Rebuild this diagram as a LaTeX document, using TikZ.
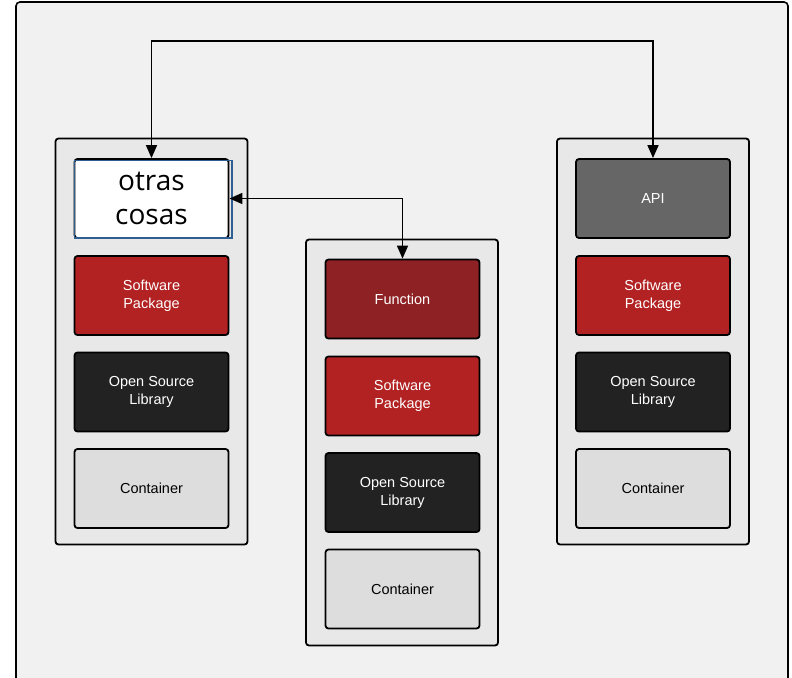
\documentclass[tikz,border=0pt]{standalone}
\usepackage{fontspec}
\setmainfont{Liberation Sans}
\newfontfamily\bigfont{Open Sans}
\usetikzlibrary{arrows.meta}

\definecolor{framebg}{HTML}{F1F1F1}
\definecolor{colbg}{HTML}{E8E8E8}
\definecolor{pkgred}{HTML}{B22222}
\definecolor{fnred}{HTML}{8E2123}
\definecolor{libdark}{HTML}{222222}
\definecolor{apigray}{HTML}{666666}
\definecolor{boxgray}{HTML}{DDDDDD}
\definecolor{otrasblue}{HTML}{2F5E93}

\tikzset{
  column/.style={draw, line width=1.8pt, rounded corners=3pt, fill=colbg,
    minimum width=192pt, minimum height=406pt},
  layer/.style={draw, line width=1.8pt, rounded corners=3pt, text=white, align=center,
    minimum width=154pt, minimum height=79pt, font=\fontsize{14.5}{18}\selectfont},
  pkg/.style={layer, fill=pkgred},
  fn/.style={layer, fill=fnred},
  lib/.style={layer, fill=libdark},
  api/.style={layer, fill=apigray},
  box/.style={layer, fill=boxgray, text=black},
  other/.style={layer, fill=white, text=black, font=\bigfont\fontsize{28}{34}\selectfont},
  link/.style={line width=1.6pt, {Triangle[length=13pt,width=11pt]}-{Triangle[length=13pt,width=11pt]}}
}

\begin{document}
\begin{tikzpicture}[x=1pt,y=-1pt]
    \useasboundingbox (0,0) rectangle (792,677);
    \clip (0,0) rectangle (792,677);
    \fill[white] (0,0) rectangle (792,677);

    % Marco exterior
    \draw[line width=1.6pt, fill=framebg, rounded corners=4pt] (16,2) rectangle (788,684);

    % Columnas
    \node[column] (lcol) at (151.5,341.5) {};
    \node[column] (mcol) at (402,442.5) {};
    \node[column] (rcol) at (653,341.5) {};

    % Capas de cada columna
    \node[other] (otras) at (151.5,198.5) {otras\\cosas};
    \draw[otrasblue, line width=1.2pt] ([shift={(0.5pt,1pt)}]otras.south west)
        rectangle ([shift={(2.5pt,-2pt)}]otras.north east);
    \node[fn] (func) at (402.5,299) {Function};
    \node[api] (api) at (653,198.5) {API};

    \foreach \c/\x/\y in {l/151.5/198.5, m/402.5/299, r/653/198.5} {
        \node[pkg] (\c pkg) at (\x,\y+97) {Software\\Package};
        \node[lib] (\c lib) at (\x,\y+193.5) {Open Source\\Library};
        \node[box] (\c box) at (\x,\y+290) {Container};
    }

    % Conexiones
    \coordinate (top) at (402,41);
    \draw[link] (otras.north) |- (top) -| (api.north);
    \draw[link] (otras.east) -| (func.north);
\end{tikzpicture}
\end{document}
